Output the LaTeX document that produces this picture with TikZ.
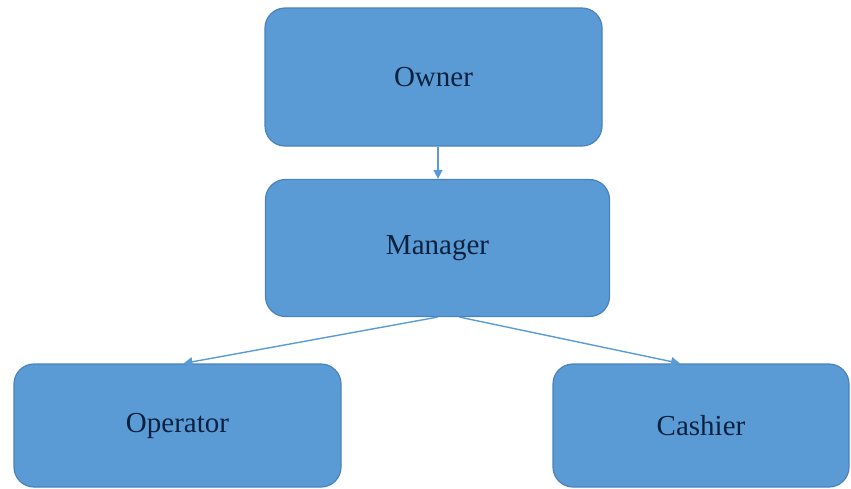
\documentclass[tikz,border=0pt]{standalone}
\usepackage{fontspec}
\setmainfont{Liberation Serif}
\usepackage{xcolor}
\usetikzlibrary{arrows.meta,positioning,calc}
\definecolor{boxblue}{HTML}{5B9BD5}
\definecolor{boxline}{HTML}{4A82BC}
\definecolor{textnavy}{HTML}{0A2240}

\begin{document}
\begin{tikzpicture}[x=1pt, y=-1pt,
        every node/.style={font=\fontsize{29}{34}\selectfont, text=textnavy},
        rolebox/.style={draw=boxline, fill=boxblue, line width=1.2pt,
              rounded corners=20pt, inner sep=0pt},
        link/.style={draw=boxblue, line width=1.4pt, -{Triangle[length=9pt,width=9pt]}}]
        \useasboundingbox (0,0) rectangle (851,488);
        \node[rolebox, minimum width=337pt, minimum height=138pt] (owner) at (433.5,77) {Owner};
        \node[rolebox, minimum width=344pt, minimum height=137pt] (manager) at (437.5,248) {Manager};
        \node[rolebox, minimum width=327pt, minimum height=123pt] (operator) at (177.5,425.5) {Operator};
        \node[rolebox, minimum width=296pt, minimum height=123pt] (cashier) at (701,425.5) {Cashier};
        \draw[link] ([xshift=4.5pt]owner.south) -- ([xshift=0.5pt]manager.north);
        \draw[link] (manager.south) -- ([xshift=6pt]operator.north);
        \draw[link] ([xshift=22pt]manager.south) -- ([xshift=-21pt]cashier.north);
\end{tikzpicture}
\end{document}
